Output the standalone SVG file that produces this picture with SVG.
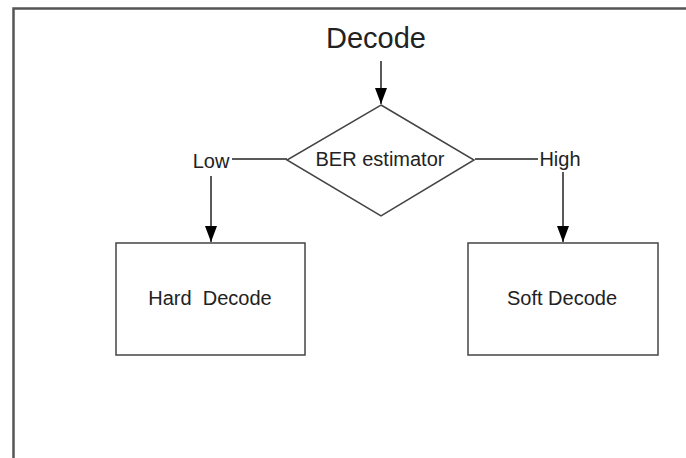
<svg xmlns="http://www.w3.org/2000/svg" width="686" height="458" viewBox="0 0 686 458">
<defs>
<marker id="ah" markerWidth="16" markerHeight="12" refX="16" refY="6" orient="auto" markerUnits="userSpaceOnUse" viewBox="0 0 16 12">
<path d="M0,0 L16,6 L0,12 Z" fill="#000"/>
</marker>
</defs>
<style>
text{font-family:"Liberation Sans",Arial,sans-serif;fill:#222;}
.lbl{font-size:20px;}
.shape{fill:#fff;stroke:#444;stroke-width:1.5;}
.conn{stroke:#222;stroke-width:1.5;fill:none;}
</style>
<rect width="686" height="458" fill="#fff"/>
<path d="M13.5,470 L13.5,8.5 L700,8.5" fill="none" stroke="#555" stroke-width="2.5"/>
<g id="title"><text x="376" y="48" font-size="29" text-anchor="middle">Decode</text></g>
<g id="connectors">
<line class="conn" x1="381" y1="61" x2="381" y2="104" marker-end="url(#ah)"/>
<line class="conn" x1="232" y1="159" x2="287" y2="159"/>
<line class="conn" x1="475" y1="159" x2="538" y2="159"/>
<line class="conn" x1="211" y1="176" x2="211" y2="242" marker-end="url(#ah)"/>
<line class="conn" x1="563" y1="172" x2="563" y2="242" marker-end="url(#ah)"/>
</g>
<g id="ber"><polygon class="shape" points="381,105 474,160 381,216 287,160"/><text class="lbl" x="380" y="166" text-anchor="middle">BER estimator</text></g>
<g id="low"><text class="lbl" x="211" y="168" text-anchor="middle">Low</text></g>
<g id="high"><text class="lbl" x="560" y="166" text-anchor="middle">High</text></g>
<g id="hard"><rect class="shape" x="116" y="243" width="189" height="112"/><text class="lbl" x="210" y="305" text-anchor="middle" xml:space="preserve">Hard  Decode</text></g>
<g id="soft"><rect class="shape" x="468" y="243" width="190" height="112"/><text class="lbl" x="562" y="305" text-anchor="middle">Soft Decode</text></g>
</svg>
